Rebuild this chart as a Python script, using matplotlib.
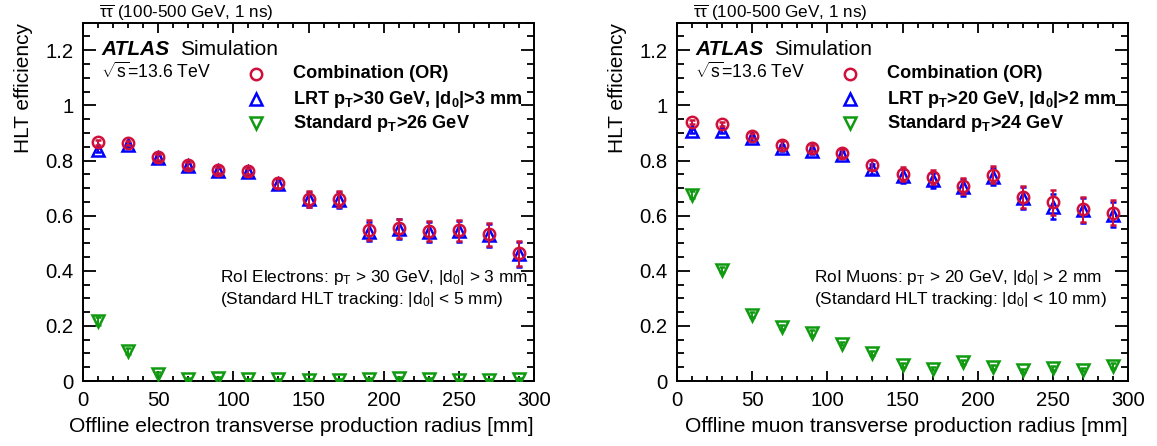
import matplotlib
matplotlib.use("Agg")
import matplotlib.pyplot as plt
from matplotlib.ticker import MultipleLocator, FuncFormatter

plt.rcParams['font.family'] = ['Liberation Sans', 'DejaVu Sans']
plt.rcParams['mathtext.fontset'] = 'custom'
plt.rcParams['mathtext.rm'] = 'Liberation Sans'
plt.rcParams['mathtext.it'] = 'Liberation Sans:italic'
plt.rcParams['mathtext.bf'] = 'Liberation Sans:bold'

# ---------------- data ----------------
radius = [10, 30, 50, 70, 90, 110, 130, 150, 170, 190, 210, 230, 250, 270, 290]

# Electrons (left)
ele_or = [0.866, 0.864, 0.812, 0.783, 0.765, 0.762, 0.719, 0.661, 0.660, 0.548, 0.554, 0.545, 0.547, 0.533, 0.464]
ele_or_err = [0.008, 0.008, 0.010, 0.010, 0.012, 0.012, 0.018, 0.028, 0.030, 0.035, 0.035, 0.037, 0.038, 0.042, 0.045]
ele_lrt = [0.838, 0.857, 0.810, 0.781, 0.761, 0.759, 0.716, 0.659, 0.656, 0.542, 0.551, 0.541, 0.544, 0.529, 0.460]
ele_lrt_err = [0.008, 0.008, 0.010, 0.010, 0.012, 0.012, 0.018, 0.028, 0.030, 0.035, 0.035, 0.037, 0.038, 0.042, 0.045]
ele_std = [0.218, 0.109, 0.027, 0.008, 0.012, 0.006, 0.006, 0.005, 0.004, 0.007, 0.011, 0.007, 0.005, 0.004, 0.008]
ele_std_err = [0.015, 0.010, 0.006, 0.003, 0.004, 0.003, 0.003, 0.003, 0.003, 0.004, 0.005, 0.004, 0.003, 0.003, 0.004]

# Muons (right)
mu_or = [0.939, 0.933, 0.890, 0.857, 0.845, 0.827, 0.785, 0.751, 0.740, 0.707, 0.749, 0.669, 0.648, 0.623, 0.611]
mu_or_err = [0.008, 0.008, 0.010, 0.012, 0.012, 0.013, 0.018, 0.025, 0.027, 0.030, 0.030, 0.040, 0.045, 0.045, 0.045]
mu_lrt = [0.907, 0.907, 0.880, 0.846, 0.835, 0.821, 0.769, 0.745, 0.728, 0.703, 0.742, 0.665, 0.632, 0.619, 0.604]
mu_lrt_err = [0.008, 0.008, 0.010, 0.012, 0.012, 0.013, 0.018, 0.025, 0.027, 0.030, 0.030, 0.040, 0.045, 0.045, 0.045]
mu_std = [0.676, 0.404, 0.241, 0.196, 0.176, 0.136, 0.103, 0.058, 0.045, 0.069, 0.051, 0.039, 0.046, 0.041, 0.056]
mu_std_err = [0.012, 0.010, 0.008, 0.008, 0.008, 0.007, 0.007, 0.006, 0.006, 0.008, 0.007, 0.006, 0.007, 0.006, 0.008]

left_xlabel = "Offline electron transverse production radius [mm]"
right_xlabel = "Offline muon transverse production radius [mm]"
ylabel = "HLT efficiency"
title_text = r"$\overline{\mathrm{\tau\tau}}$ (100-500 GeV, 1 ns)"
energy_text = r"$\sqrt{\mathrm{s}}$=13.6 TeV"
left_legend = ["Combination (OR)",
               r"LRT $\mathbf{p_{T}}$>30 GeV, |$\mathbf{d_{0}}$|>3 mm",
               r"Standard $\mathbf{p_{T}}$>26 GeV"]
right_legend = ["Combination (OR)",
                r"LRT $\mathbf{p_{T}}$>20 GeV, |$\mathbf{d_{0}}$|>2 mm",
                r"Standard $\mathbf{p_{T}}$>24 GeV"]
left_note = [r"RoI Electrons: p$_{\mathrm{T}}$ > 30 GeV, |d$_{0}$| > 3 mm",
             r"(Standard HLT tracking: |d$_{0}$| < 5 mm)"]
right_note = [r"RoI Muons: p$_{\mathrm{T}}$ > 20 GeV, |d$_{0}$| > 2 mm",
              r"(Standard HLT tracking: |d$_{0}$| < 10 mm)"]

RED = '#d0103a'
BLUE = '#0000ff'
GREEN = '#109a10'

fig = plt.figure(figsize=(11.57, 4.46), dpi=100)
ax1 = fig.add_axes([83 / 1157, 0.1457, 451 / 1157, 0.8034])
ax2 = fig.add_axes([677 / 1157, 0.1457, 451 / 1157, 0.8034])


def fmt(v, pos):
    if abs(v) < 1e-9:
        return "0"
    return "%g" % round(v, 2)


def draw(ax, y_or, e_or, y_lrt, e_lrt, y_std, e_std, legend, note, xlabel):
    ms = 8.2
    mew = 1.8
    eb = dict(mfc='none', ms=ms, mew=mew, elinewidth=1.4, capsize=2.2, capthick=1.4)
    ax.errorbar(radius, y_std, yerr=e_std, fmt='v', color=GREEN, mec=GREEN, zorder=3, **eb)
    ax.errorbar(radius, y_lrt, yerr=e_lrt, fmt='^', color=BLUE, mec=BLUE, zorder=4, **eb)
    ax.errorbar(radius, y_or, yerr=e_or, fmt='o', color=RED, mec=RED, zorder=5, **eb)
    ax.set_xlim(0, 300)
    ax.set_ylim(0, 1.3)
    ax.xaxis.set_major_locator(MultipleLocator(50))
    ax.xaxis.set_minor_locator(MultipleLocator(10))
    ax.yaxis.set_major_locator(MultipleLocator(0.2))
    ax.yaxis.set_minor_locator(MultipleLocator(0.05))
    ax.yaxis.set_major_formatter(FuncFormatter(fmt))
    ax.tick_params(which='both', direction='in', top=True, right=True, labelsize=14.6, width=1.3)
    ax.tick_params(axis='x', which='major', length=7.5, pad=7)
    ax.tick_params(axis='x', which='minor', length=3.8)
    ax.tick_params(axis='y', which='major', length=9.5, pad=7)
    ax.tick_params(axis='y', which='minor', length=4.8)
    for sp in ax.spines.values():
        sp.set_linewidth(1.4)
    ax.set_xlabel(xlabel, fontsize=15.1, loc='right', labelpad=5)
    ax.set_ylabel(ylabel, fontsize=15.0, loc='top', labelpad=9)

    t = ax.transAxes
    ax.text(0.035, 1.013, title_text, transform=t, fontsize=12.3, va='baseline', ha='left')
    ax.text(0.04, 0.91, "ATLAS", transform=t, fontsize=15, fontweight='bold', style='italic',
            va='baseline', ha='left')
    ax.text(0.215, 0.91, "Simulation", transform=t, fontsize=15, va='baseline', ha='left')
    ax.text(0.04, 0.847, energy_text, transform=t, fontsize=12.7, va='baseline', ha='left')

    rows = [0.857, 0.786, 0.719]
    mk = [('o', RED), ('^', BLUE), ('v', GREEN)]
    for (m, c), yy, lab in zip(mk, rows, legend):
        ax.plot([0.384], [yy], marker=m, mfc='none', mec=c, ms=ms, mew=mew,
                transform=t, clip_on=False, ls='none')
        ax.text(0.465, yy, lab, transform=t, fontsize=13.1, fontweight='bold', va='center', ha='left')

    ax.text(0.304, 0.277, note[0], transform=t, fontsize=12.4, va='baseline', ha='left')
    ax.text(0.304, 0.214, note[1], transform=t, fontsize=12.4, va='baseline', ha='left')


draw(ax1, ele_or, ele_or_err, ele_lrt, ele_lrt_err, ele_std, ele_std_err, left_legend, left_note, left_xlabel)
draw(ax2, mu_or, mu_or_err, mu_lrt, mu_lrt_err, mu_std, mu_std_err, right_legend, right_note, right_xlabel)

fig.savefig("out.png", dpi=100)
